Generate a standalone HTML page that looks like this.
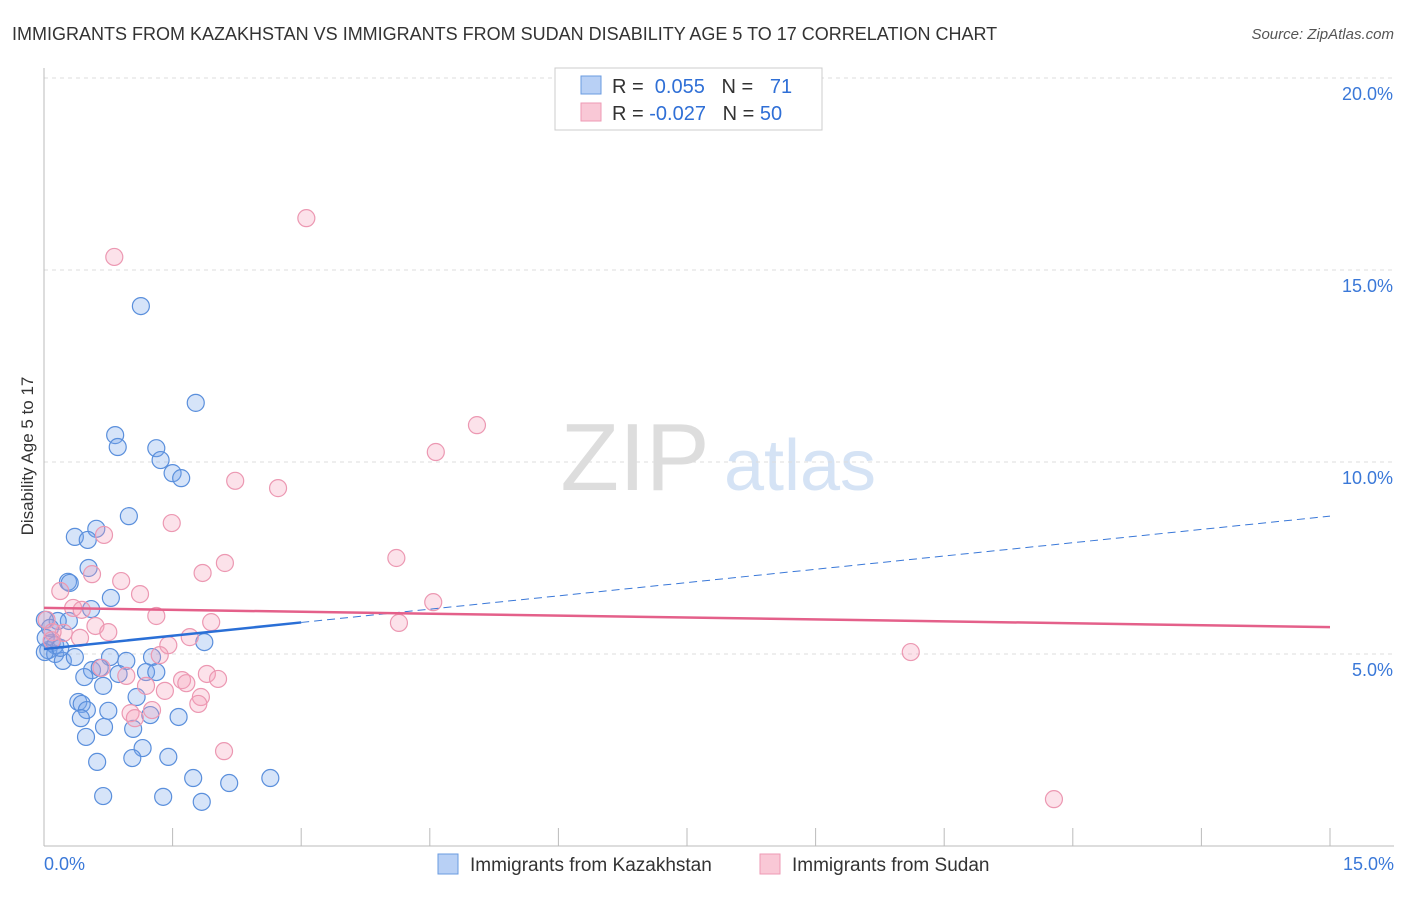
<!DOCTYPE html>
<html><head><meta charset="utf-8"><style>
body{margin:0;background:#fff;font-family:"Liberation Sans",sans-serif;}
svg text{font-family:"Liberation Sans",sans-serif;}
</style></head><body>
<svg id="chart" width="1406" height="892" xmlns="http://www.w3.org/2000/svg">
<text x="12" y="40" font-size="18" fill="#333">IMMIGRANTS FROM KAZAKHSTAN VS IMMIGRANTS FROM SUDAN DISABILITY AGE 5 TO 17 CORRELATION CHART</text>
<text x="1394" y="39" font-size="15" fill="#555" font-style="italic" text-anchor="end">Source: ZipAtlas.com</text>
<text transform="translate(33,456) rotate(-90)" font-size="17" fill="#333" text-anchor="middle">Disability Age 5 to 17</text>
<g>
<text x="635" y="490" font-size="96" fill="#ddd" font-family="Liberation Serif" text-anchor="middle">ZIP</text>
<text x="800" y="490" font-size="72" fill="#d5e3f5" text-anchor="middle">atlas</text>
</g>
<g id="grid"></g>
<g id="axes"></g>
<g id="marks"></g>
<g>
<rect x="555" y="68" width="267" height="62" fill="#fff" stroke="#ccc"/>
<rect x="581" y="76" width="20" height="18" fill="#b8d0f5" stroke="#6a9be0"/>
<rect x="581" y="103" width="20" height="18" fill="#f9c8d6" stroke="#ee9ab4"/>
<text x="612" y="93" font-size="20" fill="#333">R = <tspan fill="#2f6fd6">&#160;0.055</tspan>&#160;&#160;&#160;N = <tspan fill="#2f6fd6">&#160;&#160;71</tspan></text>
<text x="612" y="120" font-size="20" fill="#333">R = <tspan fill="#2f6fd6">-0.027</tspan>&#160;&#160;&#160;N = <tspan fill="#2f6fd6">50</tspan></text>
</g>
<g>
<rect x="438" y="854" width="20" height="20" fill="#b8d0f5" stroke="#6a9be0"/>
<text x="470" y="871" font-size="19" fill="#333">Immigrants from Kazakhstan</text>
<rect x="760" y="854" width="20" height="20" fill="#f9c8d6" stroke="#ee9ab4"/>
<text x="792" y="871" font-size="19" fill="#333">Immigrants from Sudan</text>
</g>
</svg>
<script>
const yTicks=[5,10,15,20];
const yTickLabels=["5.0%","10.0%","15.0%","20.0%"];
const xTickCount=11;
const xLabels=["0.0%","15.0%"];
const blueX=[1.13,1.77,0.83,0.86,1.31,1.36,1.50,1.60,0.99,0.61,0.36,0.51,0.52,0.28,0.30,0.78,0.55,0.29,0.16,0.09,0.05,0.13,0.22,0.36,0.77,0.96,1.26,1.87,0.56,0.65,0.87,1.19,1.31,0.47,0.69,0.40,0.44,0.50,0.75,1.08,1.24,1.57,0.43,0.70,1.04,0.49,1.15,1.45,1.03,0.62,1.74,2.64,2.16,0.69,1.39,1.84,0.01,0.07,0.02,0.13,0.01,0.19];
const blueY=[14.06,11.54,10.70,10.39,10.36,10.05,9.71,9.58,8.59,8.26,8.05,7.97,7.24,6.88,6.85,6.46,6.17,5.86,5.86,5.29,5.10,5.00,4.82,4.92,4.92,4.82,4.92,5.31,4.58,4.64,4.48,4.53,4.53,4.40,4.17,3.75,3.70,3.54,3.52,3.88,3.41,3.36,3.33,3.10,3.05,2.84,2.55,2.32,2.29,2.19,1.77,1.77,1.64,1.30,1.28,1.15,5.89,5.68,5.42,5.23,5.05,5.16];
const pinkX=[3.06,0.82,5.05,4.57,2.23,2.73,1.49,0.70,4.11,2.11,1.85,0.56,0.90,0.19,1.12,4.54,0.34,0.44,1.31,1.95,0.60,0.23,0.75,4.14,1.70,1.45,0.42,1.35,0.67,0.96,1.90,1.61,1.66,2.03,1.19,1.41,1.83,1.80,1.01,1.26,1.06,2.10,10.11,11.78,0.03,0.10,0.09];
const pinkY=[16.35,15.34,10.96,10.26,9.51,9.32,8.41,8.10,7.50,7.37,7.11,7.08,6.90,6.64,6.56,6.35,6.20,6.15,5.99,5.83,5.73,5.55,5.57,5.81,5.44,5.23,5.42,4.97,4.64,4.43,4.48,4.32,4.24,4.35,4.17,4.04,3.88,3.70,3.46,3.54,3.33,2.47,5.05,1.22,5.89,5.57,5.36];
const blueTrend=[5.13,8.59];
const blueSolidEnd=3.0;
const pinkTrend=[6.20,5.70];
const X0=44,X1=1330,XMAX=15,Y0=846,YPX=38.4;
const sx=v=>X0+v/XMAX*(X1-X0);
const sy=v=>Y0-v*YPX;
const NS="http://www.w3.org/2000/svg";
function mk(tag,attrs,parent){const e=document.createElementNS(NS,tag);for(const k in attrs)e.setAttribute(k,attrs[k]);document.getElementById(parent).appendChild(e);return e;}
yTicks.forEach((t,i)=>{
 const l=mk('line',{x1:X0,x2:1394,y1:sy(t),y2:sy(t),stroke:'#ddd','stroke-dasharray':'4,4'},'grid');
 
 
 const tx=mk('text',{x:1393,y:sy(t)+22,'font-size':18,fill:'#3a78d8','text-anchor':'end'},'axes');
 tx.textContent=yTickLabels[i];
 
 
});
const ax=mk('line',{x1:X0,x2:1394,y1:Y0,y2:Y0,stroke:'#bbb'},'axes');


const ay=mk('line',{x1:X0,x2:X0,y1:68,y2:Y0,stroke:'#bbb'},'axes');


for(let i=0;i<xTickCount;i++){
 const v=i*XMAX/(xTickCount-1);
 const t=mk('line',{x1:sx(v),x2:sx(v),y1:Y0,y2:Y0-18,stroke:'#bbb'},'axes');
 
 
}
const xl0=mk('text',{x:44,y:870,'font-size':18,fill:'#3a78d8'},'axes');xl0.textContent=xLabels[0];


const xl1=mk('text',{x:1394,y:870,'font-size':18,fill:'#3a78d8','text-anchor':'end'},'axes');xl1.textContent=xLabels[1];


blueX.forEach((x,i)=>{
 const c=mk('circle',{cx:sx(x),cy:sy(blueY[i]),r:8.5,fill:'rgba(120,165,235,0.3)',stroke:'#5a8fdc','stroke-width':1.2},'marks');
 
 
});
pinkX.forEach((x,i)=>{
 const c=mk('circle',{cx:sx(x),cy:sy(pinkY[i]),r:8.5,fill:'rgba(245,160,185,0.3)',stroke:'#ec98b2','stroke-width':1.2},'marks');
 
 
});
const by=v=>blueTrend[0]+(blueTrend[1]-blueTrend[0])*v/XMAX;
const bd=mk('line',{x1:sx(blueSolidEnd),y1:sy(by(blueSolidEnd)),x2:sx(XMAX),y2:sy(by(XMAX)),stroke:'#3a78d8','stroke-width':1,'stroke-dasharray':'8,5'},'marks');


const bs=mk('line',{x1:sx(0),y1:sy(by(0)),x2:sx(blueSolidEnd),y2:sy(by(blueSolidEnd)),stroke:'#2a6fd6','stroke-width':2.5},'marks');


const ps=mk('line',{x1:sx(0),y1:sy(pinkTrend[0]),x2:sx(XMAX),y2:sy(pinkTrend[1]),stroke:'#e4608a','stroke-width':2.5},'marks');


</script>
</body></html>
